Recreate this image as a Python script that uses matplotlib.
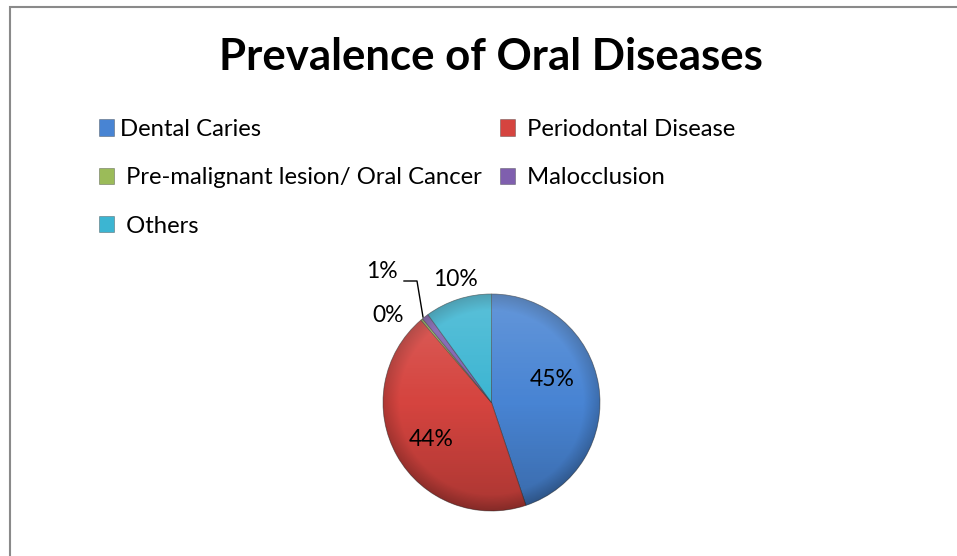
import matplotlib
matplotlib.use('Agg')
import matplotlib.pyplot as plt
import numpy as np
from matplotlib.patches import Patch, Circle

# ---------------- data ----------------
title = "Prevalence of Oral Diseases"
categories = ["Dental Caries", "Periodontal Disease",
              "Pre-malignant lesion/ Oral Cancer", "Malocclusion", "Others"]
values = [45, 44, 0.3, 1, 10]
colors = ["#4884D3", "#D5443F", "#9BBB59", "#7F5FAE", "#3CB5D2"]

# ---------------- layout (pixels, image coords) ----------------
W, H = 957, 556
fig = plt.figure(figsize=(W / 100, H / 100), dpi=100)
ax = fig.add_axes([0, 0, 1, 1])


def Y(y):
    return H - y


cx, cy, r = 491.5, Y(402.5), 108.5
wedges, _ = ax.pie(values, colors=colors, startangle=90, counterclock=False,
                   center=(cx, cy), radius=r,
                   wedgeprops=dict(edgecolor=(0.2, 0.2, 0.2, 0.55), linewidth=0.6))
ax.set_xlim(0, W)
ax.set_ylim(0, H)
ax.axis('off')

# subtle shading overlay to mimic the bevelled look
n = 300
yy, xx = np.mgrid[-1:1:n * 1j, -1:1:n * 1j]
d = np.sqrt(xx ** 2 + yy ** 2)
ov = np.zeros((n, n, 4))
vert = yy  # -1 top, +1 bottom (origin upper)
alpha = np.where(vert < 0, 0.16 * (-vert), 0.20 * vert)
rgb = np.where(vert[..., None] < 0, 1.0, 0.0)
rim = np.clip((d - 0.85) / 0.15, 0, 1) * 0.18
ov[..., :3] = rgb * (alpha / (alpha + rim + 1e-9))[..., None]
ov[..., 3] = np.clip(alpha + rim, 0, 1)
im = ax.imshow(ov, extent=(cx - r, cx + r, cy - r, cy + r), origin='upper',
               zorder=3, interpolation='bilinear')
im.set_clip_path(Circle((cx, cy), r, transform=ax.transData))
ax.set_xlim(0, W)
ax.set_ylim(0, H)

renderer = fig.canvas.get_renderer()


def fit_size(s, target_px, family, weight='normal', base=20):
    t = ax.text(0, 0, s, fontsize=base, family=family, weight=weight)
    w = t.get_window_extent(renderer).width
    t.remove()
    return base * target_px / w


FONT = ['Lato', 'DejaVu Sans']

# title
tsize = fit_size(title, 544, FONT, 'bold')
ax.text(491, Y(57), title, ha='center', va='center', fontsize=tsize,
        family=FONT, weight='bold', color='black')

# data labels
total = sum(values)
pct_labels = [f"{round(v / total * 100)}%" for v in values]
label_pos = [(552, 379), (431, 440), (388, 315), (382, 271), (455, 280)]
lsize = fit_size("45%", 45, FONT)
for lab, (px, py) in zip(pct_labels, label_pos):
    ax.text(px, Y(py), lab, ha='center', va='center', fontsize=lsize,
            family=FONT, color='black', zorder=5)

# leader line for the 1% label
ax.plot([404, 417, 423], [Y(281), Y(281), Y(317)], color='black', lw=1.0, zorder=5)

# legend
legsize = fit_size("Dental Caries", 142, FONT)
fpx = legsize * 100 / 72.0
handles = [Patch(facecolor=c, edgecolor=(0.2, 0.2, 0.2, 0.5), linewidth=0.5) for c in colors]
labels = [categories[0]] + [" " + c for c in categories[1:]]
common = dict(frameon=False, loc='upper left', borderpad=0, borderaxespad=0,
              handlelength=15 / fpx, handleheight=16 / fpx, handletextpad=6 / fpx,
              labelspacing=(56 - 1.2 * fpx) / fpx,
              prop=dict(family=FONT, size=legsize),
              bbox_transform=ax.transData)
col1 = [0, 2, 4]
col2 = [1, 3]
leg1 = ax.legend([handles[i] for i in col1], [labels[i] for i in col1],
                 bbox_to_anchor=(99, Y(119)), **common)
ax.add_artist(leg1)
leg2 = ax.legend([handles[i] for i in col2], [labels[i] for i in col2],
                 bbox_to_anchor=(500, Y(119)), **common)

# chart border
ax.plot([10, 10, W + 2], [-2, Y(6.5), Y(6.5)], color='#8a8a8a', lw=1.5,
        solid_joinstyle='miter', zorder=6)

fig.savefig('out.png', dpi=100)
